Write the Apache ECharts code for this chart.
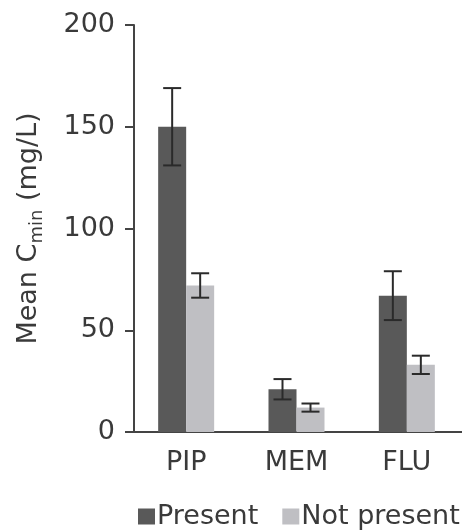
<!DOCTYPE html>
<html>
<head>
<meta charset="utf-8">
<style>
  html, body { margin: 0; padding: 0; background: #fff; }
  #chart { width: 462px; height: 530px; }
</style>
<script src="https://cdn.jsdelivr.net/npm/echarts@6/dist/echarts.min.js"></script>
</head>
<body>
<div id="chart"></div>
<script>
// Mean Cmin by drug, split by presence of the factor
const categories = ['PIP', 'MEM', 'FLU'];
const presentMean = [150, 21, 67];
const presentErr = [19, 5, 12];
const notPresentMean = [72, 12, 33];
const notPresentErr = [6, 2, 4.5];
const yTicks = { min: 0, max: 200, interval: 50 };

const FONT = 'DejaVu Sans';
const TEXT = '#3a3a3a';
const BAR_W = 28;

const chart = echarts.init(document.getElementById('chart'), null, { renderer: 'canvas' });

// Error whiskers drawn on top of each bar; side = -1 for the left bar, +1 for the right one
function errorSeries(means, errs, side) {
  return {
    type: 'custom',
    z: 10,
    silent: true,
    data: means.map((m, i) => [i, m - errs[i], m + errs[i]]),
    encode: { x: 0, y: [1, 2] },
    renderItem: function (params, api) {
      const c = api.value(0);
      const lo = api.coord([c, api.value(1)]);
      const hi = api.coord([c, api.value(2)]);
      const x = lo[0] + side * BAR_W / 2;
      const cap = 9;
      const style = { stroke: '#2a2a2a', lineWidth: 2 };
      return {
        type: 'group',
        children: [
          { type: 'line', shape: { x1: x, y1: lo[1], x2: x, y2: hi[1] }, style: style },
          { type: 'line', shape: { x1: x - cap, y1: hi[1], x2: x + cap, y2: hi[1] }, style: style },
          { type: 'line', shape: { x1: x - cap, y1: lo[1], x2: x + cap, y2: lo[1] }, style: style }
        ]
      };
    }
  };
}

chart.setOption({
  animation: false,
  textStyle: { fontFamily: FONT, color: TEXT },
  grid: { left: 131, right: -4, top: 25, bottom: 98, containLabel: false },
  legend: {
    left: 133,
    top: 498,
    width: 600,
    itemWidth: 17,
    itemHeight: 16,
    itemGap: 24,
    icon: 'rect',
    textStyle: { fontFamily: FONT, fontSize: 27, color: TEXT, padding: [0, 0, 0, -3] },
    data: ['Present', 'Not present']
  },
  xAxis: {
    type: 'category',
    data: categories,
    axisLine: { lineStyle: { color: '#444', width: 2 } },
    axisTick: { show: false },
    axisLabel: { fontFamily: FONT, fontSize: 27, color: TEXT, margin: 17 }
  },
  yAxis: {
    type: 'value',
    min: yTicks.min,
    max: yTicks.max,
    interval: yTicks.interval,
    offset: -3,
    splitLine: { show: false },
    axisLine: { show: true, lineStyle: { color: '#444', width: 2 } },
    axisTick: { show: true, length: 9, lineStyle: { color: '#444', width: 2 } },
    axisLabel: { fontFamily: FONT, fontSize: 27, color: TEXT, margin: 19 },
    name: '{a|Mean C}{s|min}{a| (mg/L)}',
    nameLocation: 'middle',
    nameGap: 88,
    nameRotate: 90,
    nameTextStyle: {
      rich: {
        a: { fontFamily: FONT, fontSize: 27, color: TEXT },
        s: { fontFamily: FONT, fontSize: 18, color: TEXT, padding: [16, 0, 0, 0] }
      }
    }
  },
  series: [
    {
      name: 'Present',
      type: 'bar',
      data: presentMean,
      barWidth: BAR_W,
      barGap: '0%',
      itemStyle: { color: '#595959' }
    },
    {
      name: 'Not present',
      type: 'bar',
      data: notPresentMean,
      barWidth: BAR_W,
      barGap: '0%',
      itemStyle: { color: '#bfbfc3' }
    },
    errorSeries(presentMean, presentErr, -1),
    errorSeries(notPresentMean, notPresentErr, 1)
  ]
});
</script>
</body>
</html>
